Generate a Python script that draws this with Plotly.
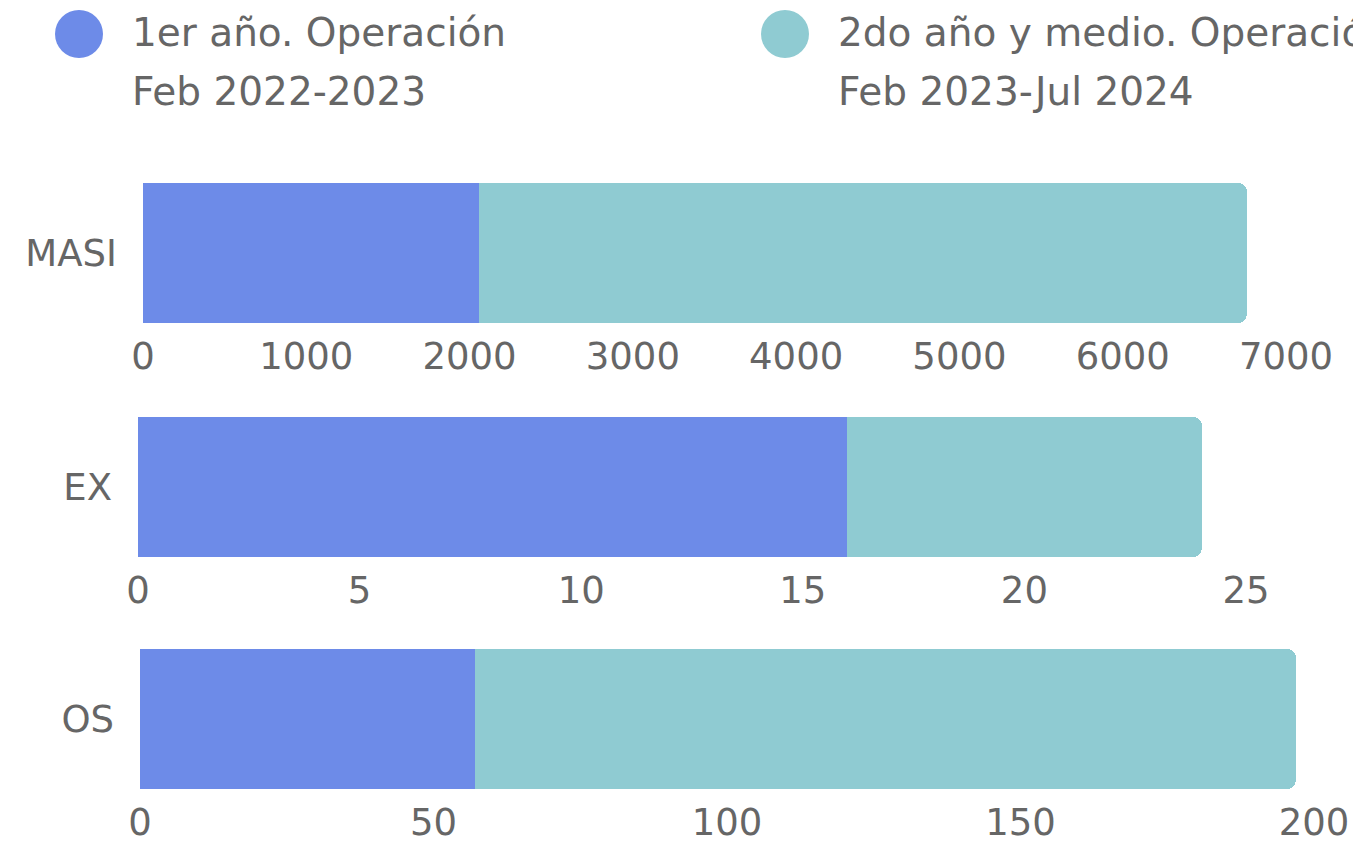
import plotly.graph_objects as go

categories = ["MASI", "EX", "OS"]
first_year = [2060, 16, 57]
second_period = [4700, 8, 140]
axis_max = [7000, 25, 200]
axis_dtick = [1000, 5, 50]
legend_names = ["1er año. Operación", "2do año y medio. Operación"]
legend_periods = ["Feb 2022-2023", "Feb 2023-Jul 2024"]

BLUE = "#6D8BE8"
TEAL = "#8FCBD2"
TXT = "#666666"
FONT = "DejaVu Sans"

OFF = 8  # page body margin
W, H = 1361 - OFF, 844 - OFF
# pixel boxes (screen coords) for each panel: (x0, x1, ytop, ybottom)
boxes = [(143, 1286, 183, 323), (138, 1246, 417, 557), (140, 1314, 649, 789)]


def px(x):
    return (x - OFF) / W


def py(y):
    return 1 - (y - OFF) / H


fig = go.Figure()
for i, cat in enumerate(categories):
    suffix = "" if i == 0 else str(i + 1)
    fig.add_trace(go.Bar(y=[cat], x=[first_year[i]], orientation="h", marker_color=BLUE,
                         marker_line_width=0, name=legend_names[0], showlegend=False,
                         xaxis="x" + suffix, yaxis="y" + suffix))
    fig.add_trace(go.Bar(y=[cat], x=[second_period[i]], orientation="h", marker_color=TEAL,
                         marker_line_width=0, name=legend_names[1], showlegend=False,
                         xaxis="x" + suffix, yaxis="y" + suffix))

layout = dict(
    width=W, height=H, margin=dict(l=0, r=0, t=0, b=0, autoexpand=False),
    paper_bgcolor="white", plot_bgcolor="white",
    barmode="stack", bargap=0, barcornerradius=9,
    font=dict(family=FONT, color=TXT, size=37),
    showlegend=False,
)
for i, (x0, x1, yt, yb) in enumerate(boxes):
    suffix = "" if i == 0 else str(i + 1)
    span = (x1 - x0)
    # extend range by ~1px so the last grid line stays visible inside the plot area
    layout["xaxis" + suffix] = dict(
        domain=[px(x0), px(x1 + 1)], anchor="y" + suffix,
        range=[0, axis_max[i] * (span + 1) / span],
        dtick=axis_dtick[i], tick0=0, showgrid=True, gridcolor="#e3e3e3", gridwidth=1,
        zeroline=False, showline=False, ticks="", ticklabelstandoff=8, automargin=False,
        tickfont=dict(size=37, color=TXT, family=FONT),
    )
    layout["yaxis" + suffix] = dict(
        domain=[py(yb), py(yt)], anchor="x" + suffix,
        showgrid=False, zeroline=False, showline=False, ticks="", ticklabelstandoff=25,
        automargin=False, tickfont=dict(size=37, color=TXT, family=FONT),
    )
fig.update_layout(**layout)

# custom legend
legend_pos = [(79, 130), (785, 836)]
shapes = []
annotations = []
for (cx, tx), nm, per, col in zip(legend_pos, legend_names, legend_periods, [BLUE, TEAL]):
    r = 24
    shapes.append(dict(type="circle", xref="paper", yref="paper",
                       x0=px(cx - r), x1=px(cx + r), y0=py(34 + r), y1=py(34 - r),
                       fillcolor=col, line=dict(width=0)))
    annotations.append(dict(xref="paper", yref="paper", x=px(tx), y=py(32), xanchor="left",
                            yanchor="middle", text=nm, showarrow=False,
                            font=dict(size=39, color=TXT, family=FONT)))
    annotations.append(dict(xref="paper", yref="paper", x=px(tx), y=py(91), xanchor="left",
                            yanchor="middle", text=per, showarrow=False,
                            font=dict(size=39, color=TXT, family=FONT)))
fig.update_layout(shapes=shapes, annotations=annotations)

fig.write_html("out.html")
